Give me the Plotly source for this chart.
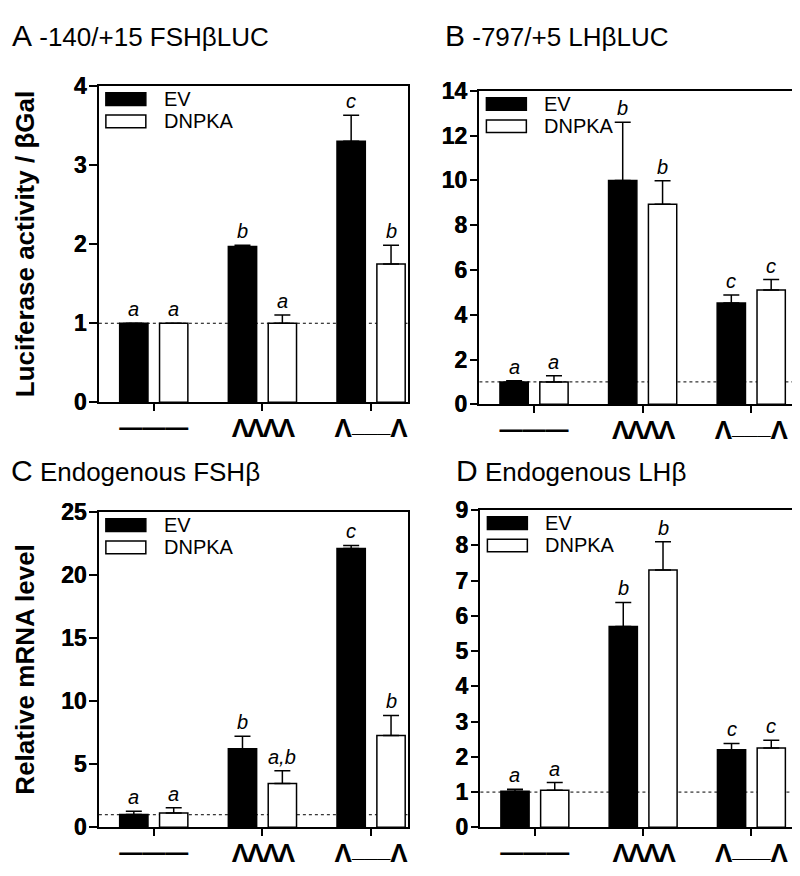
import plotly.graph_objects as go

# ---------------- data ----------------
groups = ["Constant", "High frequency", "Low frequency"]
pulse_labels = [
    "<span style=\"font-size:23px;baseline-shift:2px\">———</span>",
    "<span style=\"letter-spacing:-2px\">ΛΛΛΛ</span>",
    "Λ<span style=\"baseline-shift:0.2em;font-size:23px\">___</span>Λ",
]
series_names = ["EV", "DNPKA"]

# Panel A: -140/+15 FSHβLUC
a_ev = [1.0, 1.97, 3.30]
a_ev_err = [0.0, 0.015, 0.33]
a_dn = [1.0, 1.0, 1.75]
a_dn_err = [0.0, 0.105, 0.235]
a_ev_sig = ["a", "b", "c"]
a_dn_sig = ["a", "a", "b"]

# Panel B: -797/+5 LHβLUC
b_ev = [1.0, 10.0, 4.52]
b_ev_err = [0.05, 2.6, 0.36]
b_dn = [1.0, 8.93, 5.1]
b_dn_err = [0.27, 1.05, 0.47]
b_ev_sig = ["a", "b", "c"]
b_dn_sig = ["a", "b", "c"]

# Panel C: Endogenous FSHβ
c_ev = [1.02, 6.23, 22.1]
c_ev_err = [0.26, 1.0, 0.25]
c_dn = [1.13, 3.48, 7.28]
c_dn_err = [0.43, 1.0, 1.59]
c_ev_sig = ["a", "b", "c"]
c_dn_sig = ["a", "a,b", "b"]

# Panel D: Endogenous LHβ
d_ev = [1.02, 5.70, 2.20]
d_ev_err = [0.06, 0.68, 0.18]
d_dn = [1.05, 7.30, 2.25]
d_dn_err = [0.22, 0.80, 0.22]
d_ev_sig = ["a", "b", "c"]
d_dn_sig = ["a", "b", "c"]

panel_letters = ["A", "B", "C", "D"]
panel_titles = ["-140/+15 FSHβLUC", "-797/+5 LHβLUC", "Endogenous FSHβ", "Endogenous LHβ"]
y_titles = ["Luciferase activity / βGal", None, "Relative mRNA level", None]
y_max = [4, 14, 25, 9]
y_dtick = [1, 2, 5, 1]

# ---------------- layout constants ----------------
W, H = 800, 876
FONT = "Arial, 'Liberation Sans', sans-serif"
BARGAP = 0.266
BARGROUPGAP = 0.29
OFFSET = (1 - BARGAP) / 4

# plot boxes in pixels: left, right, top, bottom
boxes = [(91, 400, 67, 393), (472, 798, 72, 395), (91, 400, 506, 831), (473, 798, 504, 831)]
x_ranges = [[-0.505, 2.335], [-0.503, 2.495], [-0.505, 2.335], [-0.503, 2.495]]
title_pos = [(2, 15), (436, 15), (1, 463), (447, 463)]
YTITLE_X = 17

panels = [
    (a_ev, a_ev_err, a_dn, a_dn_err, a_ev_sig, a_dn_sig),
    (b_ev, b_ev_err, b_dn, b_dn_err, b_ev_sig, b_dn_sig),
    (c_ev, c_ev_err, c_dn, c_dn_err, c_ev_sig, c_dn_sig),
    (d_ev, d_ev_err, d_dn, d_dn_err, d_ev_sig, d_dn_sig),
]

fig = go.Figure()
annotations = []
shapes = []

for i, (ev, ev_err, dn, dn_err, ev_sig, dn_sig) in enumerate(panels):
    n = "" if i == 0 else str(i + 1)
    xa, ya = "x" + n, "y" + n
    for name, vals, errs, fill, sig, sgn in [
        (series_names[0], ev, ev_err, "black", ev_sig, -1),
        (series_names[1], dn, dn_err, "white", dn_sig, 1),
    ]:
        fig.add_trace(go.Bar(
            x=groups, y=vals, name=name, xaxis=xa, yaxis=ya,
            marker=dict(color=fill, line=dict(color="black", width=1.5)),
            error_y=dict(type="data", array=errs, arrayminus=[0] * len(errs), symmetric=False,
                         color="black", thickness=1.5, width=8),
            offsetgroup=name, showlegend=False,
        ))
        for k, (v, e, s) in enumerate(zip(vals, errs, sig)):
            annotations.append(dict(
                x=k + sgn * OFFSET, y=v + e, xref=xa, yref=ya, text=s, showarrow=False,
                yanchor="bottom", yshift=1,
                font=dict(family=FONT, size=20, color="black", style="italic"),
            ))

    l, r, t, b = boxes[i]
    dom_x = [l / W, r / W]
    dom_y = [1 - b / H, 1 - t / H]
    axis_common = dict(showline=True, linecolor="black", linewidth=1.5, mirror=True,
                       ticks="outside", tickcolor="black", tickwidth=1.5,
                       showgrid=False, zeroline=False)
    xkey = "xaxis" + n
    ykey = "yaxis" + n
    fig.layout[xkey] = dict(
        domain=dom_x, anchor=ya, range=x_ranges[i], type="category",
        tickvals=groups, ticktext=pulse_labels, ticklen=7, ticklabelstandoff=-5,
        tickfont=dict(family=FONT, size=26, color="black", weight="bold"),
        **axis_common,
    )
    fig.layout[ykey] = dict(
        domain=dom_y, anchor=xa, range=[0, y_max[i]], dtick=y_dtick[i], tick0=0, ticklen=8,
        tickprefix="<b>", ticksuffix="</b>", ticklabelstandoff=-2,
        tickfont=dict(family=FONT, size=23, color="black", weight="bold",
                      shadow="0.5px 0 0 black"),
        **axis_common,
    )

    # y-axis title
    if y_titles[i]:
        annotations.append(dict(
            x=YTITLE_X / W, y=1 - (t + b) / 2 / H, xref="paper", yref="paper",
            text=y_titles[i], textangle=-90, showarrow=False,
            xanchor="center", yanchor="middle", borderpad=0,
            font=dict(family=FONT, size=26, color="black", weight="bold"),
        ))

    # reference line at 1
    shapes.append(dict(type="line", xref=xa + " domain", yref=ya, x0=0, x1=1, y0=1, y1=1,
                       line=dict(color="black", width=1, dash="dot"), layer="below"))

    # legend (swatches + labels)
    pw, ph = r - l, b - t
    for j, (name, fill) in enumerate([(series_names[0], "black"), (series_names[1], "white")]):
        top = 7 + 23 * j
        shapes.append(dict(type="rect", xref=xa + " domain", yref=ya + " domain",
                           x0=7 / pw, x1=47 / pw, y0=1 - (top + 13) / ph, y1=1 - top / ph,
                           fillcolor=fill, line=dict(color="black", width=1.5)))
        annotations.append(dict(x=63 / pw, y=1 - (top + 6.5) / ph, xref=xa + " domain",
                                yref=ya + " domain", text=name, showarrow=False,
                                xanchor="left", yanchor="middle",
                                font=dict(family=FONT, size=20, color="black")))

    # panel title
    tx, ty = title_pos[i]
    annotations.append(dict(
        x=tx / W, y=1 - ty / H, xref="paper", yref="paper", showarrow=False,
        xanchor="left", yanchor="middle",
        text=f"<span style='font-size:30px'>{panel_letters[i]}</span> {panel_titles[i]}",
        font=dict(family=FONT, size=26, color="black"),
    ))

fig.update_layout(
    width=W, height=H, margin=dict(l=0, r=0, t=0, b=0),
    paper_bgcolor="white", plot_bgcolor="white",
    barmode="group", bargap=BARGAP, bargroupgap=BARGROUPGAP,
    annotations=annotations, shapes=shapes,
    font=dict(family=FONT, color="black"),
)

fig.write_html("out.html")
